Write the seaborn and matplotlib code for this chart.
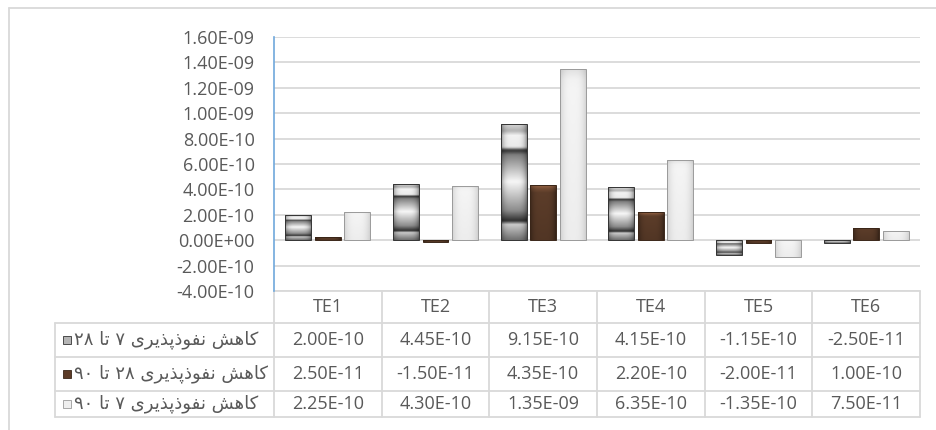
import numpy as np
import pandas as pd
import seaborn as sns
import matplotlib.pyplot as plt
from matplotlib.patches import Rectangle
from matplotlib.ticker import FuncFormatter, MultipleLocator

categories = ["TE1", "TE2", "TE3", "TE4", "TE5", "TE6"]
series_labels = [
    "کاهش نفوذپذیری ۷ تا ۲۸",
    "کاهش نفوذپذیری ۲۸ تا ۹۰",
    "کاهش نفوذپذیری ۷ تا ۹۰",
]
perm_7_28 = [2.00e-10, 4.45e-10, 9.15e-10, 4.15e-10, -1.15e-10, -2.50e-11]
perm_28_90 = [2.50e-11, -1.50e-11, 4.35e-10, 2.20e-10, -2.00e-11, 1.00e-10]
perm_7_90 = [2.25e-10, 4.30e-10, 1.35e-09, 6.35e-10, -1.35e-10, 7.50e-11]

series_values = [perm_7_28, perm_28_90, perm_7_90]
base_colors = ["#b5b5b5", "#5c3b27", "#efefef"]
TEXT = "#595959"
GRID = "#d9d9d9"

df = pd.DataFrame(
    [(c, s, v) for s, vals in zip(series_labels, series_values) for c, v in zip(categories, vals)],
    columns=["category", "series", "value"],
)

# --- tiny Persian shaper (no arabic_reshaper / bidi available) ---
# forms: isolated, final, initial, medial
FORMS = {
    "ا": ("\uFE8D", "\uFE8E", None, None),
    "ه": ("\uFEE9", "\uFEEA", "\uFEEB", "\uFEEC"),
    "ش": ("\uFEB5", "\uFEB6", "\uFEB7", "\uFEB8"),
    "ن": ("\uFEE5", "\uFEE6", "\uFEE7", "\uFEE8"),
    "ف": ("\uFED1", "\uFED2", "\uFED3", "\uFED4"),
    "و": ("\uFEED", "\uFEEE", None, None),
    "ذ": ("\uFEAB", "\uFEAC", None, None),
    "پ": ("\uFB56", "\uFB57", "\uFB58", "\uFB59"),
    "ی": ("\uFBFC", "\uFBFD", "\uFBFE", "\uFBFF"),
    "ر": ("\uFEAD", "\uFEAE", None, None),
    "ت": ("\uFE95", "\uFE96", "\uFE97", "\uFE98"),
    "ک": ("\uFB8E", "\uFB8F", "\uFB90", "\uFB91"),
}


def shape_word(word):
    out = []
    for i, ch in enumerate(word):
        if ch not in FORMS:
            out.append(ch)
            continue
        prev = word[i - 1] if i > 0 else None
        nxt = word[i + 1] if i + 1 < len(word) else None
        join_prev = prev in FORMS and FORMS[prev][2] is not None
        join_next = nxt in FORMS and FORMS[ch][2] is not None
        iso, fin, ini, med = FORMS[ch]
        if join_prev and join_next:
            out.append(med)
        elif join_prev:
            out.append(fin)
        elif join_next:
            out.append(ini)
        else:
            out.append(iso)
    return "".join(out)


def rtl(text):
    tokens = []
    for tok in text.split(" "):
        if any(ch in FORMS for ch in tok):
            tokens.append(shape_word(tok)[::-1])
        else:
            tokens.append(tok)  # digits stay left-to-right
    return " ".join(tokens[::-1])


# --- bar shading to mimic the textured Excel fills ---
def shade_bar(ax, patch, style):
    x0, y0 = patch.get_x(), patch.get_y()
    w, h = patch.get_width(), patch.get_height()
    if h < 0:
        y0, h = y0 + h, -h
    if h == 0:
        return
    ny, nx = 80, 30
    side = 1 - 0.35 * np.abs(np.linspace(-1, 1, nx)) ** 4
    t = np.linspace(0, 1, ny)
    if style == 0:
        v = np.interp(t, [0, 0.06, 0.1, 0.2, 0.23, 0.27, 0.5, 0.75, 0.84, 0.87, 1.0],
                      [0.85, 0.7, 0.95, 0.92, 0.2, 0.5, 0.97, 0.55, 0.18, 0.8, 0.45])
        img = np.outer(v, side)
        rgb = np.dstack([img, img, img])
    elif style == 1:
        v = np.interp(t, [0, 0.08, 0.15, 1.0], [0.62, 0.45, 0.36, 0.32])
        img = np.outer(v, side)
        rgb = np.dstack([img, img * 0.66, img * 0.45])
    else:
        v = np.interp(t, [0, 0.06, 0.12, 1.0], [0.88, 0.95, 0.96, 0.93])
        img = np.outer(v, 1 - 0.12 * np.abs(np.linspace(-1, 1, nx)) ** 3)
        rgb = np.dstack([img, img, img])
    im = ax.imshow(np.clip(rgb, 0, 1), extent=[x0, x0 + w, y0, y0 + h], origin="upper",
                   aspect="auto", interpolation="bilinear", zorder=3)
    im.set_clip_path(patch)


sns.set_theme(style="white")
plt.rcParams["font.family"] = ["Open Sans", "DejaVu Sans"]

W, H = 936, 430
fig = plt.figure(figsize=(W / 100, H / 100), dpi=100)

# table / border layer in pixel coordinates
tax = fig.add_axes([0, 0, 1, 1])
tax.set_xlim(0, W)
tax.set_ylim(H, 0)
tax.axis("off")

ax_l, ax_r, ax_t, ax_b = 274, 920, 37, 291
ax = fig.add_axes([ax_l / W, 1 - ax_b / H, (ax_r - ax_l) / W, (ax_b - ax_t) / H])
ax.patch.set_alpha(0)

sns.barplot(data=df, x="category", y="value", hue="series", order=categories,
            hue_order=series_labels, palette=base_colors, width=0.82, gap=0.12,
            saturation=1, legend=False, ax=ax, zorder=2)

edge_colors = ["#333333", "#3a2618", "#9a9a9a"]
for k, cont in enumerate(ax.containers):
    for patch in cont:
        shade_bar(ax, patch, k)
        patch.set_facecolor("none")
        patch.set_edgecolor(edge_colors[k])
        patch.set_linewidth(0.7)
        patch.set_zorder(4)

ax.set_xlim(-0.5, 5.5)
ax.set_ylim(-4e-10, 1.6e-9)
ax.yaxis.set_major_locator(MultipleLocator(2e-10))
ax.yaxis.set_major_formatter(FuncFormatter(lambda v, p: f"{v:.2E}"))
ax.grid(axis="y", color=GRID, linewidth=1.3, zorder=0)
ax.set_axisbelow(True)
ax.set_xticks([])
ax.set_xlabel("")
ax.set_ylabel("")
for s in ["top", "right", "bottom"]:
    ax.spines[s].set_visible(False)
ax.spines["left"].set_color("#6fa8dc")
ax.spines["left"].set_linewidth(1.2)
ax.tick_params(axis="y", length=0, pad=14, labelsize=13, labelcolor=TEXT)

# outer chart border (only top/left visible in the crop)
tax.plot([9, 9], [8, H], color=GRID, lw=1.3)
tax.plot([9, W], [8, 8], color=GRID, lw=1.3)

# data table
row_y = [291, 323, 357, 391, 417]
col_w = (ax_r - ax_l) / len(categories)
col_x = [ax_l + i * col_w for i in range(len(categories) + 1)]
lbl_x = 55

tax.plot([ax_l, ax_r], [row_y[0], row_y[0]], color=GRID, lw=1.3)
for y in row_y[1:]:
    tax.plot([lbl_x, ax_r], [y, y], color=GRID, lw=1.3)
for x in col_x:
    tax.plot([x, x], [row_y[0], row_y[-1]], color=GRID, lw=1.3)
tax.plot([lbl_x, lbl_x], [row_y[1], row_y[-1]], color=GRID, lw=1.3)

for i, c in enumerate(categories):
    tax.text((col_x[i] + col_x[i + 1]) / 2, (row_y[0] + row_y[1]) / 2, c,
             ha="center", va="center", fontsize=13, color=TEXT)

for r, (lab, vals) in enumerate(zip(series_labels, series_values)):
    yc = (row_y[r + 1] + row_y[r + 2]) / 2
    tax.add_patch(Rectangle((63, yc - 4), 8, 8, facecolor=base_colors[r],
                            edgecolor=edge_colors[r], lw=0.6))
    tax.text(74, yc, rtl(lab), ha="left", va="center", fontsize=13,
             color=TEXT, family="DejaVu Sans")
    for i, v in enumerate(vals):
        tax.text((col_x[i] + col_x[i + 1]) / 2, yc, f"{v:.2E}",
                 ha="center", va="center", fontsize=13, color=TEXT)

fig.savefig("out.png", dpi=100)
